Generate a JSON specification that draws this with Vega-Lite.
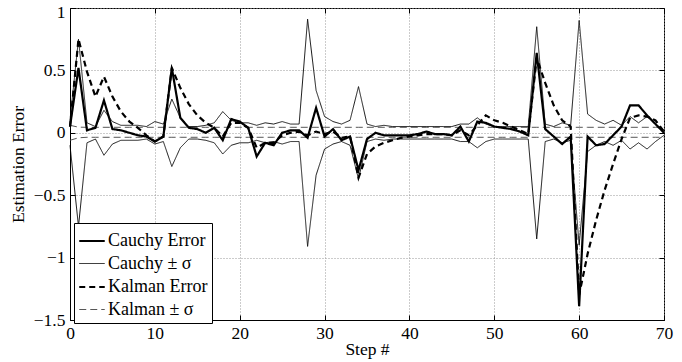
{
  "$schema": "https://vega.github.io/schema/vega-lite/v6.json",
  "width": 594,
  "height": 312,
  "autosize": {"type": "none"},
  "padding": {"left": 70, "top": 8, "right": 18, "bottom": 42},
  "background": "white",
  "config": {
    "font": "Liberation Serif",
    "view": {"stroke": "black", "strokeWidth": 1},
    "axis": {
      "labelFont": "Liberation Serif",
      "titleFont": "Liberation Serif",
      "labelFontSize": 17.5,
      "titleFontSize": 17.5,
      "titleFontWeight": "normal",
      "labelColor": "black",
      "titleColor": "black",
      "domainColor": "black",
      "tickColor": "black",
      "gridColor": "#999999",
      "gridDash": [1, 2],
      "gridWidth": 1
    }
  },
  "datasets": {
    "d": [
      {"s":0,"ce":0.05,"cp":0.1,"cm":-0.1,"ke":0.05,"kp":0.06,"km":-0.06},
      {"s":1,"ce":0.52,"cp":0.75,"cm":-0.75,"ke":0.75,"kp":0.045,"km":-0.04},
      {"s":2,"ce":0.02,"cp":0.08,"cm":-0.08,"ke":0.49,"kp":0.044,"km":-0.036},
      {"s":3,"ce":0.04,"cp":0.05,"cm":-0.05,"ke":0.29,"kp":0.044,"km":-0.036},
      {"s":4,"ce":0.26,"cp":0.18,"cm":-0.18,"ke":0.45,"kp":0.044,"km":-0.036},
      {"s":5,"ce":0.03,"cp":0.09,"cm":-0.09,"ke":0.29,"kp":0.044,"km":-0.036},
      {"s":6,"ce":0.02,"cp":0.06,"cm":-0.06,"ke":0.17,"kp":0.044,"km":-0.036},
      {"s":7,"ce":0.0,"cp":0.06,"cm":-0.06,"ke":0.09,"kp":0.044,"km":-0.036},
      {"s":8,"ce":-0.02,"cp":0.06,"cm":-0.06,"ke":0.04,"kp":0.044,"km":-0.036},
      {"s":9,"ce":-0.03,"cp":0.05,"cm":-0.05,"ke":-0.02,"kp":0.044,"km":-0.036},
      {"s":10,"ce":-0.07,"cp":0.09,"cm":-0.09,"ke":-0.07,"kp":0.044,"km":-0.036},
      {"s":11,"ce":-0.03,"cp":0.07,"cm":-0.07,"ke":-0.03,"kp":0.044,"km":-0.036},
      {"s":12,"ce":0.52,"cp":0.27,"cm":-0.27,"ke":0.52,"kp":0.044,"km":-0.036},
      {"s":13,"ce":0.12,"cp":0.12,"cm":-0.12,"ke":0.36,"kp":0.044,"km":-0.036},
      {"s":14,"ce":0.04,"cp":0.05,"cm":-0.05,"ke":0.23,"kp":0.044,"km":-0.036},
      {"s":15,"ce":0.03,"cp":0.05,"cm":-0.05,"ke":0.14,"kp":0.044,"km":-0.036},
      {"s":16,"ce":0.0,"cp":0.06,"cm":-0.06,"ke":0.08,"kp":0.044,"km":-0.036},
      {"s":17,"ce":0.04,"cp":0.08,"cm":-0.08,"ke":0.04,"kp":0.044,"km":-0.036},
      {"s":18,"ce":-0.06,"cp":0.17,"cm":-0.17,"ke":-0.03,"kp":0.044,"km":-0.036},
      {"s":19,"ce":0.11,"cp":0.1,"cm":-0.1,"ke":0.08,"kp":0.044,"km":-0.036},
      {"s":20,"ce":0.09,"cp":0.08,"cm":-0.08,"ke":0.08,"kp":0.044,"km":-0.036},
      {"s":21,"ce":0.04,"cp":0.08,"cm":-0.08,"ke":0.04,"kp":0.044,"km":-0.036},
      {"s":22,"ce":-0.19,"cp":0.06,"cm":-0.06,"ke":-0.12,"kp":0.044,"km":-0.036},
      {"s":23,"ce":-0.08,"cp":0.08,"cm":-0.08,"ke":-0.08,"kp":0.044,"km":-0.036},
      {"s":24,"ce":-0.1,"cp":0.07,"cm":-0.07,"ke":-0.08,"kp":0.044,"km":-0.036},
      {"s":25,"ce":0.0,"cp":0.09,"cm":-0.09,"ke":-0.02,"kp":0.044,"km":-0.036},
      {"s":26,"ce":0.02,"cp":0.07,"cm":-0.07,"ke":0.0,"kp":0.044,"km":-0.036},
      {"s":27,"ce":0.02,"cp":0.07,"cm":-0.07,"ke":0.01,"kp":0.044,"km":-0.036},
      {"s":28,"ce":-0.04,"cp":0.91,"cm":-0.91,"ke":-0.02,"kp":0.044,"km":-0.036},
      {"s":29,"ce":0.2,"cp":0.34,"cm":-0.34,"ke":0.01,"kp":0.044,"km":-0.036},
      {"s":30,"ce":-0.03,"cp":0.13,"cm":-0.13,"ke":-0.01,"kp":0.044,"km":-0.036},
      {"s":31,"ce":0.03,"cp":0.09,"cm":-0.09,"ke":0.01,"kp":0.044,"km":-0.036},
      {"s":32,"ce":-0.06,"cp":0.07,"cm":-0.07,"ke":-0.04,"kp":0.044,"km":-0.036},
      {"s":33,"ce":-0.03,"cp":0.1,"cm":-0.1,"ke":-0.03,"kp":0.044,"km":-0.036},
      {"s":34,"ce":-0.3,"cp":0.37,"cm":-0.37,"ke":-0.36,"kp":0.044,"km":-0.036},
      {"s":35,"ce":-0.05,"cp":0.07,"cm":-0.07,"ke":-0.17,"kp":0.044,"km":-0.036},
      {"s":36,"ce":0.0,"cp":0.05,"cm":-0.05,"ke":-0.11,"kp":0.044,"km":-0.036},
      {"s":37,"ce":-0.02,"cp":0.06,"cm":-0.06,"ke":-0.08,"kp":0.044,"km":-0.036},
      {"s":38,"ce":-0.02,"cp":0.05,"cm":-0.05,"ke":-0.06,"kp":0.044,"km":-0.036},
      {"s":39,"ce":-0.02,"cp":0.05,"cm":-0.05,"ke":-0.04,"kp":0.044,"km":-0.036},
      {"s":40,"ce":-0.02,"cp":0.05,"cm":-0.05,"ke":-0.03,"kp":0.044,"km":-0.036},
      {"s":41,"ce":-0.01,"cp":0.05,"cm":-0.05,"ke":-0.02,"kp":0.044,"km":-0.036},
      {"s":42,"ce":0.01,"cp":0.05,"cm":-0.05,"ke":-0.01,"kp":0.044,"km":-0.036},
      {"s":43,"ce":-0.01,"cp":0.05,"cm":-0.05,"ke":-0.01,"kp":0.044,"km":-0.036},
      {"s":44,"ce":-0.01,"cp":0.05,"cm":-0.05,"ke":-0.01,"kp":0.044,"km":-0.036},
      {"s":45,"ce":-0.02,"cp":0.05,"cm":-0.05,"ke":-0.02,"kp":0.044,"km":-0.036},
      {"s":46,"ce":0.05,"cp":0.07,"cm":-0.07,"ke":0.02,"kp":0.044,"km":-0.036},
      {"s":47,"ce":-0.07,"cp":0.07,"cm":-0.07,"ke":-0.02,"kp":0.044,"km":-0.036},
      {"s":48,"ce":0.09,"cp":0.12,"cm":-0.12,"ke":0.06,"kp":0.044,"km":-0.036},
      {"s":49,"ce":0.08,"cp":0.07,"cm":-0.07,"ke":0.14,"kp":0.044,"km":-0.036},
      {"s":50,"ce":0.05,"cp":0.05,"cm":-0.05,"ke":0.1,"kp":0.044,"km":-0.036},
      {"s":51,"ce":0.04,"cp":0.05,"cm":-0.05,"ke":0.08,"kp":0.044,"km":-0.036},
      {"s":52,"ce":0.03,"cp":0.05,"cm":-0.05,"ke":0.05,"kp":0.044,"km":-0.036},
      {"s":53,"ce":0.01,"cp":0.05,"cm":-0.05,"ke":0.02,"kp":0.044,"km":-0.036},
      {"s":54,"ce":-0.02,"cp":0.05,"cm":-0.05,"ke":-0.01,"kp":0.044,"km":-0.036},
      {"s":55,"ce":0.64,"cp":0.85,"cm":-0.85,"ke":0.6,"kp":0.044,"km":-0.036},
      {"s":56,"ce":0.03,"cp":0.07,"cm":-0.07,"ke":0.4,"kp":0.044,"km":-0.036},
      {"s":57,"ce":-0.03,"cp":0.05,"cm":-0.05,"ke":0.22,"kp":0.044,"km":-0.036},
      {"s":58,"ce":-0.09,"cp":0.08,"cm":-0.08,"ke":0.1,"kp":0.044,"km":-0.036},
      {"s":59,"ce":-0.03,"cp":0.06,"cm":-0.06,"ke":0.05,"kp":0.044,"km":-0.036},
      {"s":60,"ce":-1.39,"cp":0.9,"cm":-0.9,"ke":-1.3,"kp":0.044,"km":-0.036},
      {"s":61,"ce":-0.03,"cp":0.15,"cm":-0.15,"ke":-0.97,"kp":0.044,"km":-0.036},
      {"s":62,"ce":-0.1,"cp":0.1,"cm":-0.1,"ke":-0.7,"kp":0.044,"km":-0.036},
      {"s":63,"ce":-0.09,"cp":0.07,"cm":-0.07,"ke":-0.46,"kp":0.044,"km":-0.036},
      {"s":64,"ce":-0.02,"cp":0.1,"cm":-0.1,"ke":-0.25,"kp":0.044,"km":-0.036},
      {"s":65,"ce":0.05,"cp":0.06,"cm":-0.06,"ke":-0.05,"kp":0.044,"km":-0.036},
      {"s":66,"ce":0.22,"cp":0.13,"cm":-0.13,"ke":0.12,"kp":0.044,"km":-0.036},
      {"s":67,"ce":0.22,"cp":0.08,"cm":-0.08,"ke":0.14,"kp":0.044,"km":-0.036},
      {"s":68,"ce":0.14,"cp":0.13,"cm":-0.13,"ke":0.13,"kp":0.044,"km":-0.036},
      {"s":69,"ce":0.07,"cp":0.07,"cm":-0.07,"ke":0.1,"kp":0.044,"km":-0.036},
      {"s":70,"ce":0.0,"cp":0.02,"cm":-0.02,"ke":0.01,"kp":0.044,"km":-0.036}
    ],
    "k": [
      {"key": "ce", "series": "Cauchy Error"},
      {"key": "cp", "series": "Cauchy ± σ"},
      {"key": "cm", "series": "Cauchy ± σ"},
      {"key": "ke", "series": "Kalman Error"},
      {"key": "kp", "series": "Kalman ± σ"},
      {"key": "km", "series": "Kalman ± σ"}
    ]
  },
  "data": {"name": "d"},
  "transform": [
    {"fold": ["ce", "cp", "cm", "ke", "kp", "km"], "as": ["key", "value"]},
    {"lookup": "key", "from": {"data": {"name": "k"}, "key": "key", "fields": ["series"]}}
  ],
  "layer": [
    {
      "encoding": {
        "x": {
          "field": "s", "type": "quantitative",
          "scale": {"domain": [0, 70], "nice": false, "zero": false},
          "axis": {"values": [0, 10, 20, 30, 40, 50, 60, 70], "title": "Step #", "grid": true, "tickSize": -5, "labelPadding": 9, "titlePadding": -1, "labelFlush": false}
        },
        "y": {
          "field": "value", "type": "quantitative",
          "scale": {"domain": [-1.5, 1], "nice": false, "zero": false},
          "axis": {
            "values": [-1.5, -1, -0.5, 0, 0.5, 1], "format": "~g", "title": "Estimation Error", "grid": true,
            "tickSize": -5, "labelPadding": 10, "titlePadding": 6, "labelFlush": false,
            "labelOffset": {"condition": {"test": "datum.value === 1", "value": 4}, "value": 0}
          }
        },
        "detail": {"field": "key"},
        "color": {
          "field": "series", "type": "nominal",
          "scale": {"domain": ["Cauchy Error", "Cauchy ± σ", "Kalman Error", "Kalman ± σ"], "range": ["black", "black", "black", "#444444"]},
          "legend": {
            "title": null, "orient": "none", "legendX": 4, "legendY": 215,
            "fillColor": "white", "strokeColor": "black", "padding": 4,
            "labelFont": "Liberation Serif", "labelFontSize": 18, "labelColor": "black",
            "symbolType": "stroke", "symbolSize": 650, "rowPadding": -3, "labelOffset": 2
          }
        },
        "strokeWidth": {
          "field": "series", "type": "nominal",
          "scale": {"type": "ordinal", "domain": ["Cauchy Error", "Cauchy ± σ", "Kalman Error", "Kalman ± σ"], "range": [2.2, 0.9, 2.2, 0.9]},
          "legend": {
            "title": null, "orient": "none", "legendX": 4, "legendY": 215,
            "fillColor": "white", "strokeColor": "black", "padding": 4,
            "labelFont": "Liberation Serif", "labelFontSize": 18, "labelColor": "black",
            "symbolType": "stroke", "symbolSize": 650, "rowPadding": -3, "labelOffset": 2
          }
        },
        "strokeDash": {
          "field": "series", "type": "nominal",
          "scale": {"type": "ordinal", "domain": ["Cauchy Error", "Cauchy ± σ", "Kalman Error", "Kalman ± σ"], "range": [[1, 0], [1, 0], [6, 4], [7, 4]]},
          "legend": {
            "title": null, "orient": "none", "legendX": 4, "legendY": 215,
            "fillColor": "white", "strokeColor": "black", "padding": 4,
            "labelFont": "Liberation Serif", "labelFontSize": 18, "labelColor": "black",
            "symbolType": "stroke", "symbolSize": 650, "rowPadding": -3, "labelOffset": 2
          }
        }
      },
      "layer": [
        {"transform": [{"filter": "datum.series === 'Kalman ± σ'"}], "mark": {"type": "line"}},
        {"transform": [{"filter": "datum.series === 'Cauchy ± σ'"}], "mark": {"type": "line"}},
        {"transform": [{"filter": "datum.series === 'Kalman Error'"}], "mark": {"type": "line"}},
        {"transform": [{"filter": "datum.series === 'Cauchy Error'"}], "mark": {"type": "line"}}
      ]
    },
    {
      "transform": [{"filter": "datum.key === 'ce'"}],
      "mark": {"type": "line", "opacity": 0},
      "encoding": {
        "x": {
          "field": "s", "type": "quantitative",
          "scale": {"domain": [0, 70], "nice": false, "zero": false},
          "axis": {"orient": "top", "values": [0, 10, 20, 30, 40, 50, 60, 70], "title": null, "labels": false, "grid": false, "tickSize": -5, "domain": false}
        },
        "y": {
          "field": "value", "type": "quantitative",
          "scale": {"domain": [-1.5, 1], "nice": false, "zero": false},
          "axis": {"orient": "right", "values": [-1.5, -1, -0.5, 0, 0.5, 1], "title": null, "labels": false, "grid": false, "tickSize": -5, "domain": false}
        }
      }
    }
  ],
  "resolve": {"axis": {"x": "independent", "y": "independent"}}
}
